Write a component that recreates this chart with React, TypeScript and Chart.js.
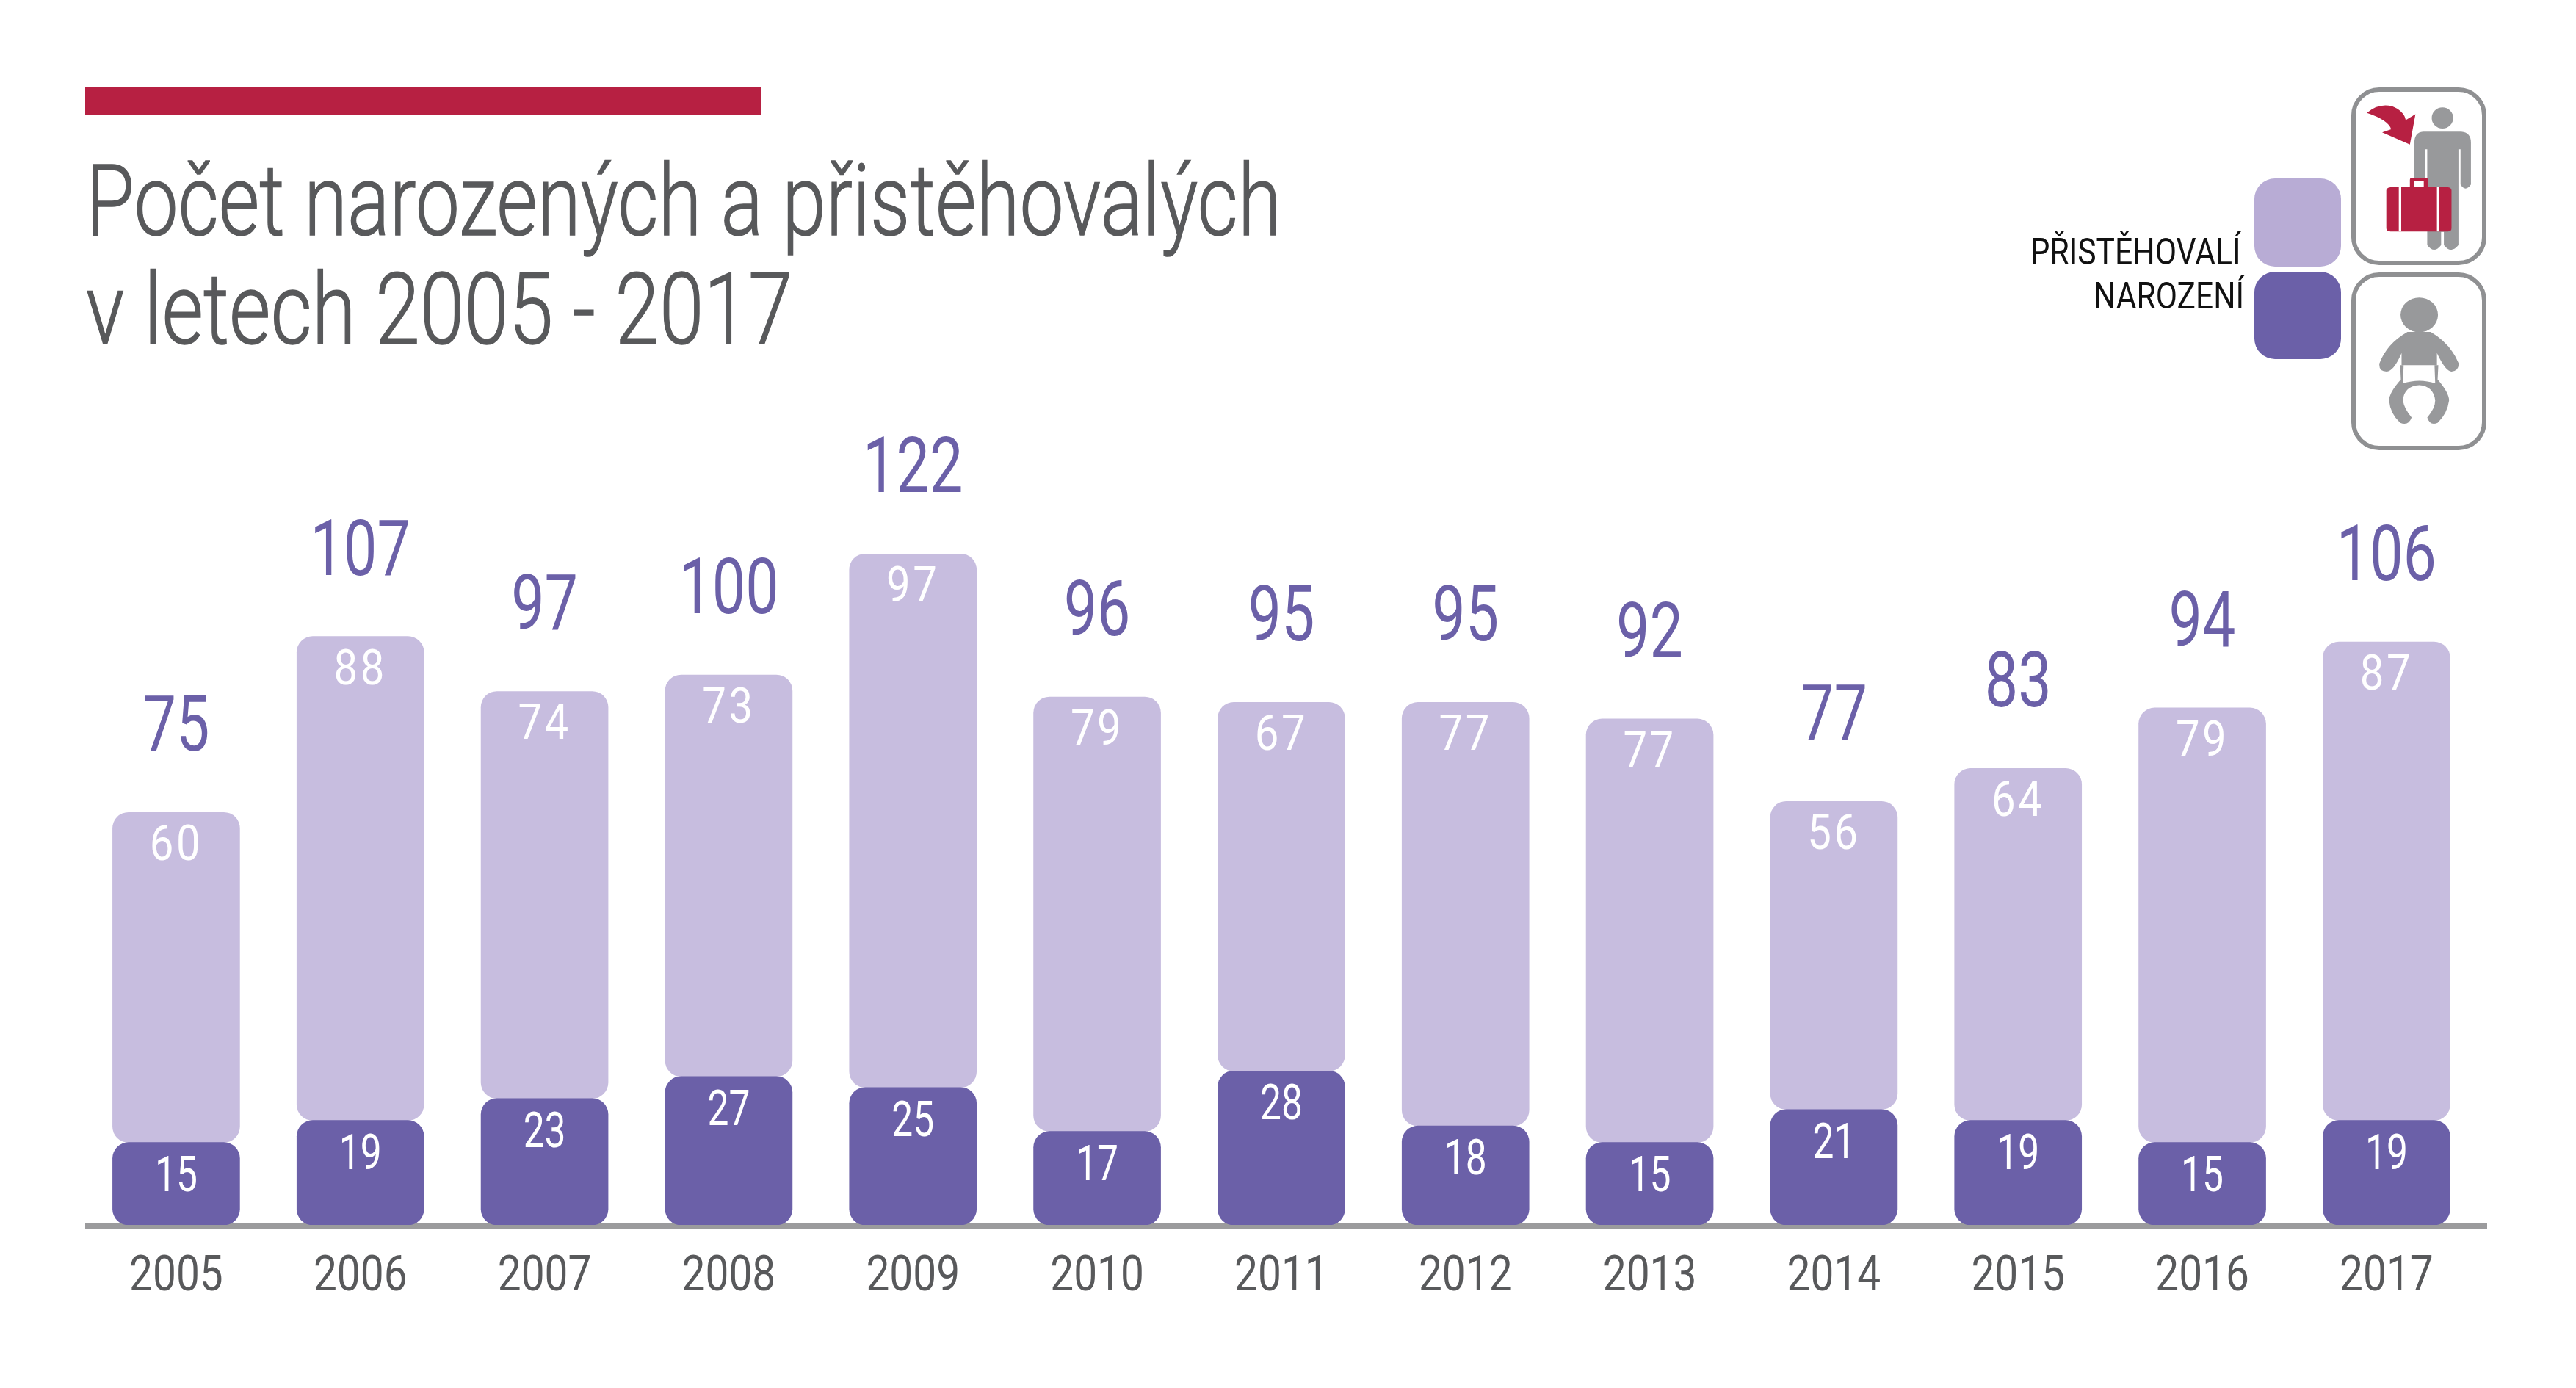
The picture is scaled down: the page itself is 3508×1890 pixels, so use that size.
import React, { useEffect, useRef } from 'react';
import { Chart, registerables, Plugin } from 'chart.js';

Chart.register(...registerables);

const years = ['2005', '2006', '2007', '2008', '2009', '2010', '2011', '2012', '2013', '2014', '2015', '2016', '2017'];
const born = [15, 19, 23, 27, 25, 17, 28, 18, 15, 21, 19, 15, 19];
const immigrants = [60, 88, 74, 73, 97, 79, 67, 77, 77, 56, 64, 79, 87];
const totals = [75, 107, 97, 100, 122, 96, 95, 95, 92, 77, 83, 94, 106];

const titleLines = ['Počet narozených a přistěhovalých', 'v letech 2005 - 2017'];
const bornLabel = 'NAROZENÍ';
const immigrantsLabel = 'PŘISTĚHOVALÍ';

const DARK = '#6b60a8';
const LIGHT = '#c7bddf';
const LEGEND_LIGHT = '#b8acd5';
const RED = '#b72042';
const GREY_TEXT = '#58595b';
const GREY_ICON = '#98999b';
const FONT = 'Roboto';

const drawScaled = (ctx: CanvasRenderingContext2D, text: string, x: number, y: number, sx: number) => {
  ctx.save();
  ctx.translate(x, y);
  ctx.scale(sx, 1);
  ctx.fillText(text, 0, 0);
  ctx.restore();
};

// axis line runs a bit wider than the plot area
const baseLine: Plugin = {
  id: 'baseLine',
  beforeDatasetsDraw(chart) {
    const { ctx, chartArea } = chart;
    ctx.save();
    ctx.fillStyle = '#9b9b9d';
    ctx.fillRect(116, chartArea.bottom - 2, 3271, 8);
    ctx.restore();
  }
};

// no condensed font is installed, so labels are squeezed by hand
const barLabels: Plugin = {
  id: 'barLabels',
  afterDatasetsDraw(chart) {
    const { ctx, chartArea } = chart;
    const x = chart.scales.x;
    const y = chart.scales.y;
    ctx.save();
    ctx.textAlign = 'center';
    ctx.textBaseline = 'alphabetic';
    years.forEach((year, i) => {
      const cx = x.getPixelForTick(i);
      const darkTop = y.getPixelForValue(born[i]);
      const lightTop = y.getPixelForValue(totals[i]);
      ctx.font = `400 66px ${FONT}`;
      ctx.fillStyle = '#ffffff';
      drawScaled(ctx, String(born[i]), cx, darkTop + 66, 0.78);
      ctx.letterSpacing = '4px';
      drawScaled(ctx, String(immigrants[i]), cx, lightTop + 65, 0.88);
      ctx.letterSpacing = '0px';
      ctx.fillStyle = GREY_TEXT;
      drawScaled(ctx, year, cx, chartArea.bottom + 89, 0.86);
      ctx.font = `400 105px ${FONT}`;
      ctx.fillStyle = DARK;
      drawScaled(ctx, String(totals[i]), cx, lightTop - 84, 0.77);
    });
    ctx.restore();
  }
};

const App: React.FC = () => {
  const canvasRef = useRef<HTMLCanvasElement | null>(null);

  useEffect(() => {
    if (!canvasRef.current) return;
    const radius = { topLeft: 22, topRight: 22, bottomLeft: 22, bottomRight: 22 };
    const chart = new Chart(canvasRef.current, {
      type: 'bar',
      data: {
        labels: years,
        datasets: [
          { label: bornLabel, data: born, backgroundColor: DARK, borderSkipped: false, borderRadius: radius, barThickness: 173 },
          { label: immigrantsLabel, data: immigrants, backgroundColor: LIGHT, borderSkipped: false, borderRadius: radius, barThickness: 173 }
        ]
      },
      options: {
        responsive: false,
        animation: false,
        devicePixelRatio: 1,
        layout: { padding: { left: 114.5, right: 132.7, top: 170, bottom: 0 } },
        plugins: { legend: { display: false }, tooltip: { enabled: false } },
        scales: {
          x: {
            stacked: true,
            grid: { display: false },
            border: { display: false },
            afterFit: scale => { scale.height = 222; },
            ticks: { display: false }
          },
          y: { stacked: true, display: false, min: 0, max: 200 }
        }
      },
      plugins: [baseLine, barLabels]
    });
    return () => chart.destroy();
  }, []);

  const text = (content: string, style: React.CSSProperties) => (
    <div style={{ position: 'absolute', whiteSpace: 'nowrap', lineHeight: 1, fontFamily: FONT, ...style }}>{content}</div>
  );
  const box: React.CSSProperties = {
    position: 'absolute', left: 3202, width: 184, boxSizing: 'border-box',
    border: `6px solid #8f9092`, borderRadius: 38
  };
  const titleStyle: React.CSSProperties = {
    left: 117, fontSize: 136, fontWeight: 300, WebkitTextStroke: `1.5px ${GREY_TEXT}`, color: GREY_TEXT,
    transformOrigin: 'left'
  };

  return (
    <div style={{ position: 'absolute', left: 0, top: 0, width: 3508, height: 1890, background: '#fff', overflow: 'hidden' }}>
      <canvas ref={canvasRef} width={3508} height={1890} style={{ position: 'absolute', left: 0, top: 0 }} />
      <div style={{ position: 'absolute', left: 116, top: 119, width: 921, height: 38, background: RED }} />
      {text(titleLines[0], { ...titleStyle, top: 206, transform: 'scaleX(0.789)' })}
      {text(titleLines[1], { ...titleStyle, top: 354, transform: 'scaleX(0.802)' })}
      {text(immigrantsLabel, { right: 456, top: 318, fontSize: 50, color: '#111', transform: 'scaleX(0.853)', transformOrigin: 'right' })}
      {text(bornLabel, { right: 452, top: 378, fontSize: 50, color: '#111', transform: 'scaleX(0.85)', transformOrigin: 'right' })}
      <div style={{ position: 'absolute', left: 3070, top: 243, width: 118, height: 120, borderRadius: 28, background: LEGEND_LIGHT }} />
      <div style={{ position: 'absolute', left: 3070, top: 370, width: 118, height: 119, borderRadius: 28, background: DARK }} />
      <div style={{ ...box, top: 119, height: 242 }} />
      <div style={{ ...box, top: 371, height: 242 }} />
      <svg viewBox="0 0 1567 1562" preserveAspectRatio="none" style={{ position: 'absolute', left: 2700, top: 90, width: 740, height: 560 }}>
        <ellipse cx="1326" cy="197" rx="31" ry="40" fill={GREY_ICON} />
        <path d="M1270 249 H1380 Q1408 252 1408 290 V450 Q1392 480 1378 450 V316 H1372 V680 Q1350 715 1330 680 V630 H1322 V680 Q1302 715 1282 680 V316 H1276 V430 L1245 430 V290 Q1245 252 1270 249 Z" fill={GREY_ICON} />
        <path d="M1108 178 Q1140 140 1180 152 Q1215 170 1220 205 L1248 183 L1232 298 L1152 252 L1178 240 Q1170 205 1108 178 Z" fill={RED} />
        <path d="M1176 460 H1232 V432 Q1232 424 1240 424 H1276 Q1284 424 1284 432 V460 H1342 Q1352 462 1352 472 V616 Q1352 628 1342 628 H1176 Q1164 628 1164 616 V472 Q1164 462 1176 460 Z M1244 436 V460 H1272 V436 Z" fillRule="evenodd" fill={RED} />
        <rect x="1200" y="460" width="7" height="168" fill="#fff" />
        <rect x="1310" y="460" width="7" height="168" fill="#fff" />
        <ellipse cx="1259" cy="945" rx="54" ry="66" fill={GREY_ICON} />
        <path d="M1225 1010 H1292 Q1350 1055 1373 1130 Q1372 1160 1352 1160 Q1335 1160 1310 1090 V1136 H1208 V1090 Q1185 1160 1165 1160 Q1142 1160 1144 1130 Q1165 1055 1225 1010 Z" fill={GREY_ICON} />
        <path d="M1204 1136 H1214 L1212 1205 Q1260 1185 1305 1205 L1303 1136 H1314 L1312 1190 Q1345 1240 1345 1270 Q1340 1320 1312 1355 Q1290 1368 1282 1335 Q1305 1300 1305 1270 Q1300 1215 1259 1212 Q1215 1215 1212 1270 Q1215 1300 1237 1335 Q1228 1368 1204 1355 Q1175 1320 1172 1270 Q1172 1240 1206 1190 Z" fill={GREY_ICON} />
      </svg>
    </div>
  );
};

export default App;
